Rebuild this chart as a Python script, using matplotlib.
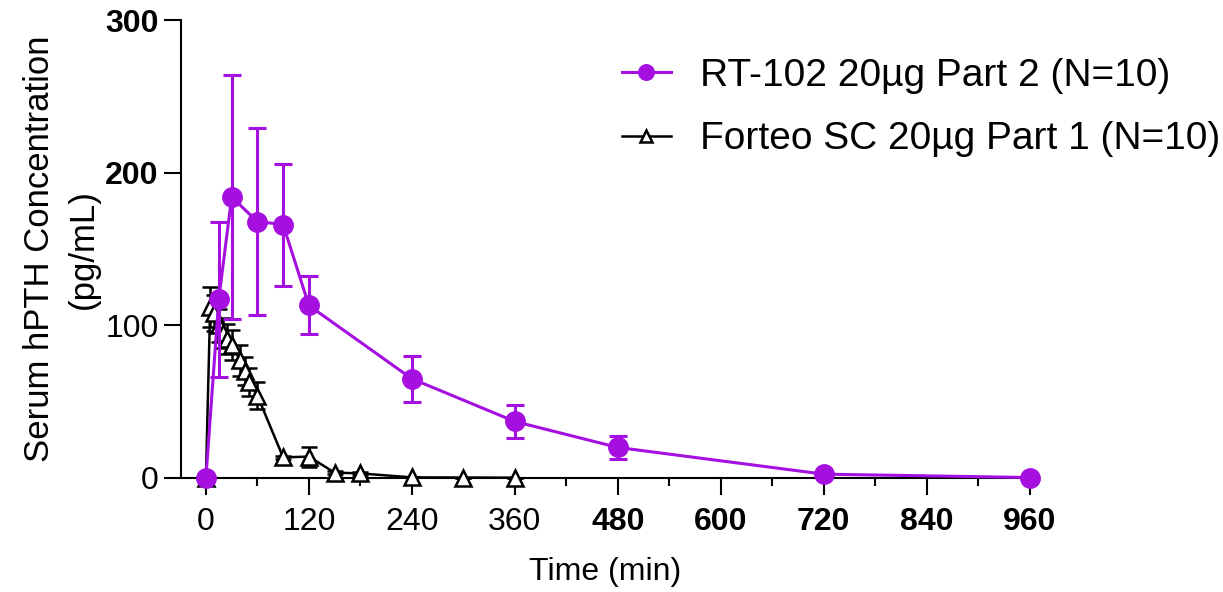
import numpy as np
import matplotlib
matplotlib.use("Agg")
import matplotlib.pyplot as plt

plt.rcParams['font.family'] = ['Liberation Sans', 'DejaVu Sans']

# --- data ---
rt_time = [0, 15, 30, 60, 90, 120, 240, 360, 480, 720, 960]
rt_mean = [0, 117, 184, 168, 166, 113, 65, 37, 20, 2.5, 0.3]
rt_sd = [0, 51, 80, 61, 40, 19, 15, 11, 7.5, 0, 0]

forteo_time = [0, 5, 10, 15, 20, 25, 30, 40, 45, 50, 60, 90, 120, 150, 180, 240, 300, 360]
forteo_mean = [0, 112, 108, 100, 95, 91, 87, 77, 70, 63, 54, 13.5, 14, 3.5, 3, 0.4, 0.3, 0.2]
forteo_sd = [0, 13, 12, 11, 10, 10, 10, 10, 9, 9, 9, 1, 6.5, 1, 1, 0, 0, 0]

x_ticks = [0, 120, 240, 360, 480, 600, 720, 840, 960]
x_bold = [False, False, False, False, True, True, True, True, True]
y_ticks = [0, 100, 200, 300]
y_bold = [False, False, True, True]

rt_label = "RT-102 20µg Part 2 (N=10)"
forteo_label = "Forteo SC 20µg Part 1 (N=10)"

purple = "#A50FE0"

fig = plt.figure(figsize=(12.23, 5.92), dpi=100)
ax = fig.add_axes([0.148, 0.1926, 0.694, 0.7736])

# --- Forteo series (black, open triangles) ---
fo = ax.errorbar(forteo_time, forteo_mean, yerr=forteo_sd, color="black",
                 lw=1.8, elinewidth=1.8, capsize=5.5, capthick=1.8,
                 marker="^", markersize=11, markerfacecolor="white",
                 markeredgecolor="black", markeredgewidth=1.8,
                 zorder=3, clip_on=False)

# --- RT-102 series (purple dots) ---
rt = ax.errorbar(rt_time, rt_mean, yerr=rt_sd, color=purple,
                 lw=2.2, elinewidth=2.2, capsize=6.5, capthick=2.2,
                 marker="o", markersize=14, markeredgecolor=purple,
                 zorder=4, clip_on=False)

# --- axes formatting ---
ax.set_xlim(-29, 960)
ax.set_ylim(0, 300)
ax.spines['top'].set_visible(False)
ax.spines['right'].set_visible(False)
for s in ['left', 'bottom']:
    ax.spines[s].set_linewidth(1.5)

ax.set_xticks(x_ticks)
ax.set_xticks(np.arange(60, 960, 120), minor=True)
ax.set_yticks(y_ticks)
ax.tick_params(axis='x', which='major', length=12, width=1.5, pad=9, labelsize=23)
ax.tick_params(axis='x', which='minor', length=6, width=1.5)
ax.tick_params(axis='y', which='major', length=12, width=1.5, pad=4, labelsize=23)

for lab, b in zip(ax.get_xticklabels(), x_bold):
    lab.set_fontweight('bold' if b else 'normal')
for lab, b in zip(ax.get_yticklabels(), y_bold):
    lab.set_fontweight('bold' if b else 'normal')

ax.set_xlabel("Time (min)", fontsize=23, labelpad=14)
ax.set_ylabel("Serum hPTH Concentration\n(pg/mL)", fontsize=25, labelpad=4,
              linespacing=1.4)

# --- legend (line + marker only, no error bars) ---
leg = fig.legend([rt[0], fo[0]], [rt_label, forteo_label], loc='upper left',
                 bbox_to_anchor=(622 / 1223, 1 - 58 / 592),
                 frameon=False, fontsize=28, handlelength=1.25,
                 handletextpad=0.75, labelspacing=0.7, markerscale=0.8,
                 borderpad=0, borderaxespad=0)

fig.savefig("out.png", dpi=100)
